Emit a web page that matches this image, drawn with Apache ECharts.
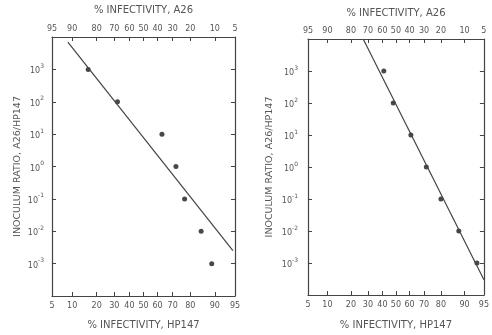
<!DOCTYPE html>
<html>
<head>
<meta charset="utf-8">
<script src="https://cdn.jsdelivr.net/npm/echarts@6/dist/echarts.min.js"></script>
<style>
  html, body { margin: 0; padding: 0; background: #fff; }
  #chart { width: 492px; height: 335px; }
</style>
</head>
<body>
<div id="chart"></div>
<script>
// % infectivity (HP147) vs inoculum ratio, two experiments
const leftPct = [16, 32, 63, 72, 77, 85, 89];
const leftRatio = [1e3, 1e2, 1e1, 1e0, 1e-1, 1e-2, 1e-3];
const leftFitPct = [8.7, 94.6];
const leftFitRatio = [7000, 0.0025];

const rightPct = [41, 48, 61, 71.5, 80, 88, 93.5];
const rightRatio = [1e3, 1e2, 1e1, 1e0, 1e-1, 1e-2, 1e-3];
const rightFitPct = [27, 95];
const rightFitRatio = [1e4, 3e-4];

const bottomTicks = [5, 10, 20, 30, 40, 50, 60, 70, 80, 90, 95];
const topTicks = [95, 90, 80, 70, 60, 50, 40, 30, 20, 10, 5];

const topTitle = '% INFECTIVITY, A26';
const bottomTitle = '% INFECTIVITY, HP147';
const yTitle = 'INOCULUM RATIO, A26/HP147';

// inverse normal cdf (Acklam), percent -> probit z
function probit(pct) {
  const p = pct / 100;
  const a = [-39.6968302866538, 220.946098424521, -275.928510446969, 138.357751867269, -30.6647980661472, 2.50662827745924];
  const b = [-54.4760987982241, 161.585836858041, -155.698979859887, 66.8013118877197, -13.2806815528857];
  const c = [-0.00778489400243029, -0.322396458041136, -2.40075827716184, -2.54973253934373, 4.37466414146497, 2.93816398269878];
  const d = [0.00778469570904146, 0.32246712907004, 2.445134137143, 3.75440866190742];
  const pl = 0.02425;
  let q, r;
  if (p < pl) {
    q = Math.sqrt(-2 * Math.log(p));
    return (((((c[0]*q+c[1])*q+c[2])*q+c[3])*q+c[4])*q+c[5]) / ((((d[0]*q+d[1])*q+d[2])*q+d[3])*q+1);
  }
  if (p > 1 - pl) {
    q = Math.sqrt(-2 * Math.log(1 - p));
    return -(((((c[0]*q+c[1])*q+c[2])*q+c[3])*q+c[4])*q+c[5]) / ((((d[0]*q+d[1])*q+d[2])*q+d[3])*q+1);
  }
  q = p - 0.5;
  r = q * q;
  return (((((a[0]*r+a[1])*r+a[2])*r+a[3])*r+a[4])*r+a[5])*q / (((((b[0]*r+b[1])*r+b[2])*r+b[3])*r+b[4])*r+1);
}

const zMin = probit(5);
const zMax = probit(95);
const textColor = '#555';
const lineColor = '#444';
const font = 'DejaVu Sans';

function pick(ticks, z) {
  for (const t of ticks) {
    if (Math.abs(probit(t) - z) < 1e-6) return String(t);
  }
  return '';
}

function xAxes(gridIndex, gapTop, gapBottom) {
  const common = {
    type: 'value',
    gridIndex,
    min: zMin,
    max: zMax,
    nameLocation: 'middle',
    nameTextStyle: { color: textColor, fontSize: 10, fontFamily: font },
    axisLine: { onZero: false, lineStyle: { color: lineColor, width: 1.2 } },
    splitLine: { show: false }
  };
  return [
    Object.assign({}, common, {
      position: 'bottom',
      name: bottomTitle,
      nameGap: gapBottom,
      axisTick: { inside: true, length: 4, customValues: bottomTicks.map(probit), lineStyle: { color: lineColor } },
      axisLabel: {
        customValues: bottomTicks.map(probit),
        formatter: (v) => pick(bottomTicks, v),
        color: textColor, fontSize: 8, fontFamily: font, margin: 6
      }
    }),
    Object.assign({}, common, {
      position: 'top',
      name: topTitle,
      nameGap: gapTop,
      axisTick: { inside: true, length: 4, customValues: topTicks.map((t) => probit(100 - t)), lineStyle: { color: lineColor } },
      axisLabel: {
        customValues: topTicks.map((t) => probit(100 - t)),
        formatter: (v) => pick(bottomTicks, v) === '' ? '' : String(100 - Number(pick(bottomTicks, v))),
        color: textColor, fontSize: 8, fontFamily: font, margin: 4
      }
    })
  ];
}

function yAxes(gridIndex, nameGap, labelMargin) {
  const common = {
    type: 'log',
    logBase: 10,
    gridIndex,
    min: 1e-4,
    max: 1e4,
    splitNumber: 8,
    axisLine: { show: true, onZero: false, lineStyle: { color: lineColor, width: 1.2 } },
    axisTick: { show: true, inside: true, length: 4, lineStyle: { color: lineColor } },
    splitLine: { show: false },
    minorTick: { show: false }
  };
  return [
    Object.assign({}, common, {
      position: 'left',
      name: yTitle,
      nameLocation: 'middle',
      nameGap,
      nameTextStyle: { color: textColor, fontSize: 9.5, fontFamily: font },
      axisLabel: {
        margin: labelMargin,
        formatter: (v) => {
          const e = Math.round(Math.log10(v));
          if (e >= 4 || e <= -4) return '';
          return '{b|10}{s|' + e + '}';
        },
        rich: {
          b: { color: textColor, fontSize: 8, fontFamily: font, lineHeight: 12, verticalAlign: 'bottom' },
          s: { color: textColor, fontSize: 6, fontFamily: font, lineHeight: 12, verticalAlign: 'top' }
        }
      }
    }),
    Object.assign({}, common, {
      position: 'right',
      axisLabel: { show: false }
    })
  ];
}

function panelSeries(idx, pct, ratio, fitPct, fitRatio) {
  return [
    {
      type: 'line',
      xAxisIndex: idx * 2,
      yAxisIndex: idx * 2,
      data: fitPct.map((p, i) => [probit(p), fitRatio[i]]),
      symbol: 'none',
      lineStyle: { color: lineColor, width: 1.2 },
      silent: true
    },
    {
      type: 'scatter',
      xAxisIndex: idx * 2,
      yAxisIndex: idx * 2,
      data: pct.map((p, i) => [probit(p), ratio[i]]),
      symbol: 'circle',
      symbolSize: 5,
      itemStyle: { color: '#1a1a1a' }
    }
  ];
}

const chart = echarts.init(document.getElementById('chart'), null, { renderer: 'canvas' });
chart.setOption({
  backgroundColor: '#fff',
  animation: false,
  grid: [
    { left: 52, top: 36, width: 183, height: 261 },
    { left: 308, top: 39, width: 184, height: 262 }
  ],
  xAxis: [...xAxes(0, 22, 24), ...xAxes(1, 21, 25)],
  yAxis: [...yAxes(0, 29, 8), ...yAxes(1, 33, 10)],
  series: [
    ...panelSeries(0, leftPct, leftRatio, leftFitPct, leftFitRatio),
    ...panelSeries(1, rightPct, rightRatio, rightFitPct, rightFitRatio)
  ]
});
</script>
</body>
</html>
